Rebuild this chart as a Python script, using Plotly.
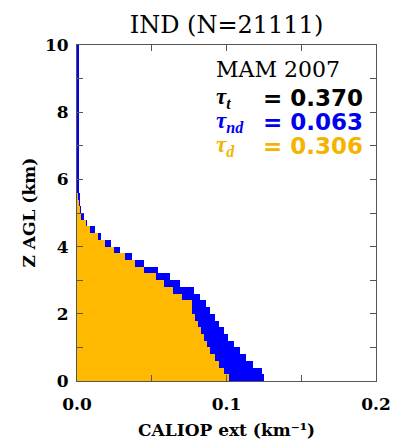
import plotly.graph_objects as go

# Bin bottoms (km), 0.2 km bins from 0 to 10
z_bottom = [round(0.2 * i, 1) for i in range(50)]

# Total extinction (blue), km^-1, per bin from 0 km upward
ext_total = [0.125, 0.124, 0.118, 0.113, 0.109, 0.105, 0.101, 0.098, 0.095, 0.092,
             0.089, 0.086, 0.082, 0.078, 0.069, 0.062, 0.054, 0.045, 0.037, 0.029,
             0.023, 0.016, 0.012, 0.007, 0.0045, 0.003, 0.002, 0.002, 0.0015, 0.0012,
             0.0010, 0.0009, 0.0009, 0.0008, 0.0008, 0.0008, 0.0008, 0.0007, 0.0007, 0.0007,
             0.0007, 0.0007, 0.0007, 0.0007, 0.0007, 0.0007, 0.0007, 0.0007, 0.0007, 0.0007]

# Dust extinction (orange)
ext_dust = [0.102, 0.098, 0.095, 0.092, 0.089, 0.087, 0.085, 0.083, 0.081, 0.079,
            0.077, 0.077, 0.070, 0.064, 0.058, 0.053, 0.045, 0.039, 0.032, 0.025,
            0.019, 0.014, 0.009, 0.006, 0.003, 0.002, 0.001, 0.0005, 0.0, 0.0,
            0.0, 0.0, 0.0, 0.0, 0.0, 0.0, 0.0, 0.0, 0.0, 0.0,
            0.0, 0.0, 0.0, 0.0, 0.0, 0.0, 0.0, 0.0, 0.0, 0.0]

bin_width = 0.2
title_text = "IND (N=21111)"
season = "MAM 2007"
tau_labels = ["τ<sub>t</sub>", "τ<sub>nd</sub>", "τ<sub>d</sub>"]
tau_values = ["0.370", "0.063", "0.306"]
tau_colors = ["#000000", "#0000ee", "#f5b300"]

BLUE = "#0000ff"
ORANGE = "#ffb900"

z_center = [zb + bin_width / 2 for zb in z_bottom]

fig = go.Figure()
fig.add_trace(go.Bar(x=ext_total, y=z_center, orientation="h", width=bin_width,
                     marker=dict(color=BLUE, line=dict(width=0)), showlegend=False))
fig.add_trace(go.Bar(x=ext_dust, y=z_center, orientation="h", width=bin_width,
                     marker=dict(color=ORANGE, line=dict(width=0)), showlegend=False))

serif = "DejaVu Serif"
axcol = "#555555"

# page body has an 8 px margin, so the figure is 8 px smaller than the window
fig.update_layout(
    width=395, height=433,
    margin=dict(l=69, r=18, t=37, b=60),
    paper_bgcolor="white", plot_bgcolor="white",
    barmode="overlay", bargap=0,
    showlegend=False,
    title=dict(text=title_text, x=0.5, xref="paper", xanchor="center", y=0.961, yanchor="middle",
               font=dict(family=serif, size=24, color="black")),
)
fig.update_xaxes(range=[0, 0.2], dtick=0.1, tickformat=".1f", ticks="inside", ticklen=6,
                 tickcolor=axcol, showline=True, linecolor=axcol, linewidth=1, mirror="ticks",
                 showgrid=False, zeroline=False, ticklabelstandoff=8,
                 minor=dict(dtick=0.05, ticks="inside", ticklen=6, tickcolor=axcol, showgrid=False),
                 tickfont=dict(family=serif, size=17, color="black", weight="bold"))
fig.update_yaxes(range=[0, 10], dtick=2, ticks="inside", ticklen=6,
                 tickcolor=axcol, showline=True, linecolor=axcol, linewidth=1, mirror="ticks",
                 showgrid=False, zeroline=False, ticklabelstandoff=4,
                 minor=dict(dtick=1, ticks="inside", ticklen=6, tickcolor=axcol, showgrid=False),
                 tickfont=dict(family=serif, size=17, color="black", weight="bold"))

# axis titles
fig.add_annotation(text="<b>CALIOP ext (km⁻¹)</b>", xref="paper", yref="paper",
                   x=0.5, y=-0.146, xanchor="center", yanchor="middle", showarrow=False,
                   font=dict(family=serif, size=17, color="black"))
fig.add_annotation(text="<b>Z AGL (km)</b>", xref="paper", yref="paper",
                   x=-0.162, y=0.5, xanchor="center", yanchor="middle", textangle=-90,
                   showarrow=False, font=dict(family=serif, size=17, color="black"))

# in-plot text
fig.add_annotation(text=season, xref="x", yref="y", x=0.0915, y=9.26,
                   xanchor="left", yanchor="middle", showarrow=False,
                   font=dict(family=serif, size=22, color="black"))
tau_y = [8.42, 7.71, 6.99]
for lab, val, col, yy in zip(tau_labels, tau_values, tau_colors, tau_y):
    fig.add_annotation(text="<b><i>" + lab + "</i></b>", xref="x", yref="y", x=0.0915, y=yy,
                       xanchor="left", yanchor="middle", showarrow=False,
                       font=dict(family="Liberation Serif", size=23, color=col))
    fig.add_annotation(text="<b>= " + val + "</b>", xref="x", yref="y", x=0.1232, y=yy,
                       xanchor="left", yanchor="middle", showarrow=False,
                       font=dict(family="DejaVu Sans", size=23, color=col))

fig.write_html("out.html")
